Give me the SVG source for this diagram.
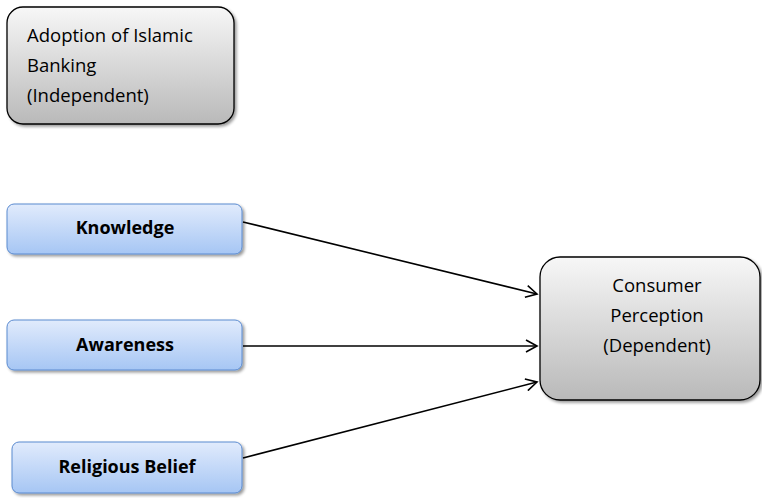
<svg xmlns="http://www.w3.org/2000/svg" width="762" height="498" viewBox="0 0 762 498">
<defs>
<linearGradient id="grey" x1="0" y1="0" x2="0" y2="1">
<stop offset="0" stop-color="#f7f7f7"/>
<stop offset="1" stop-color="#b9b9b9"/>
</linearGradient>
<linearGradient id="blue" x1="0" y1="0" x2="0" y2="1">
<stop offset="0" stop-color="#e1ebfc"/>
<stop offset="1" stop-color="#a6c6f4"/>
</linearGradient>
<filter id="sh" x="-10%" y="-10%" width="130%" height="130%">
<feGaussianBlur in="SourceAlpha" stdDeviation="1.5"/>
<feOffset dx="1.5" dy="2" result="o"/>
<feComponentTransfer><feFuncA type="linear" slope="0.4"/></feComponentTransfer>
<feMerge><feMergeNode/><feMergeNode in="SourceGraphic"/></feMerge>
</filter>
<marker id="arr" markerWidth="14" markerHeight="14" refX="12" refY="7" orient="auto" markerUnits="userSpaceOnUse">
<path d="M1,1 L12,7 L1,13" fill="none" stroke="#000" stroke-width="1.6"/>
</marker>
</defs>
<style>
.g{fill:url(#grey);stroke:#000;stroke-width:1.3;filter:url(#sh)}
.b{fill:url(#blue);stroke:#5b8bd0;stroke-width:1;filter:url(#sh)}
.t{font-family:"Open Sans","Noto Sans","Liberation Sans",sans-serif;font-size:18.5px;fill:#000}
.tb{font-family:"Open Sans","Noto Sans","Liberation Sans",sans-serif;font-size:18px;font-weight:bold;fill:#000}
.c{stroke:#000;stroke-width:1.6;fill:none;marker-end:url(#arr)}
</style>
<g id="adoption">
<rect class="g" x="7" y="7" width="227" height="117" rx="16"/>
<text class="t" x="27" y="42">Adoption of Islamic</text>
<text class="t" x="27" y="72">Banking</text>
<text class="t" x="27" y="102">(Independent)</text>
</g>
<g id="knowledge">
<rect class="b" x="7" y="204" width="235" height="50" rx="7"/>
<text class="tb" x="125" y="234" text-anchor="middle">Knowledge</text>
</g>
<g id="awareness">
<rect class="b" x="7" y="320" width="235" height="50" rx="7"/>
<text class="tb" x="125" y="351" text-anchor="middle">Awareness</text>
</g>
<g id="religious">
<rect class="b" x="12" y="442" width="230" height="51" rx="7"/>
<text class="tb" x="127" y="473" text-anchor="middle">Religious Belief</text>
</g>
<g id="consumer">
<rect class="g" x="540" y="257" width="220" height="143" rx="20"/>
<text class="t" x="657" y="292" text-anchor="middle">Consumer</text>
<text class="t" x="657" y="322" text-anchor="middle">Perception</text>
<text class="t" x="657" y="352" text-anchor="middle">(Dependent)</text>
</g>
<g id="connectors">
<line class="c" x1="243" y1="222" x2="537" y2="294"/>
<line class="c" x1="243" y1="346" x2="537" y2="346"/>
<line class="c" x1="243" y1="458" x2="537" y2="382"/>
</g>
</svg>
